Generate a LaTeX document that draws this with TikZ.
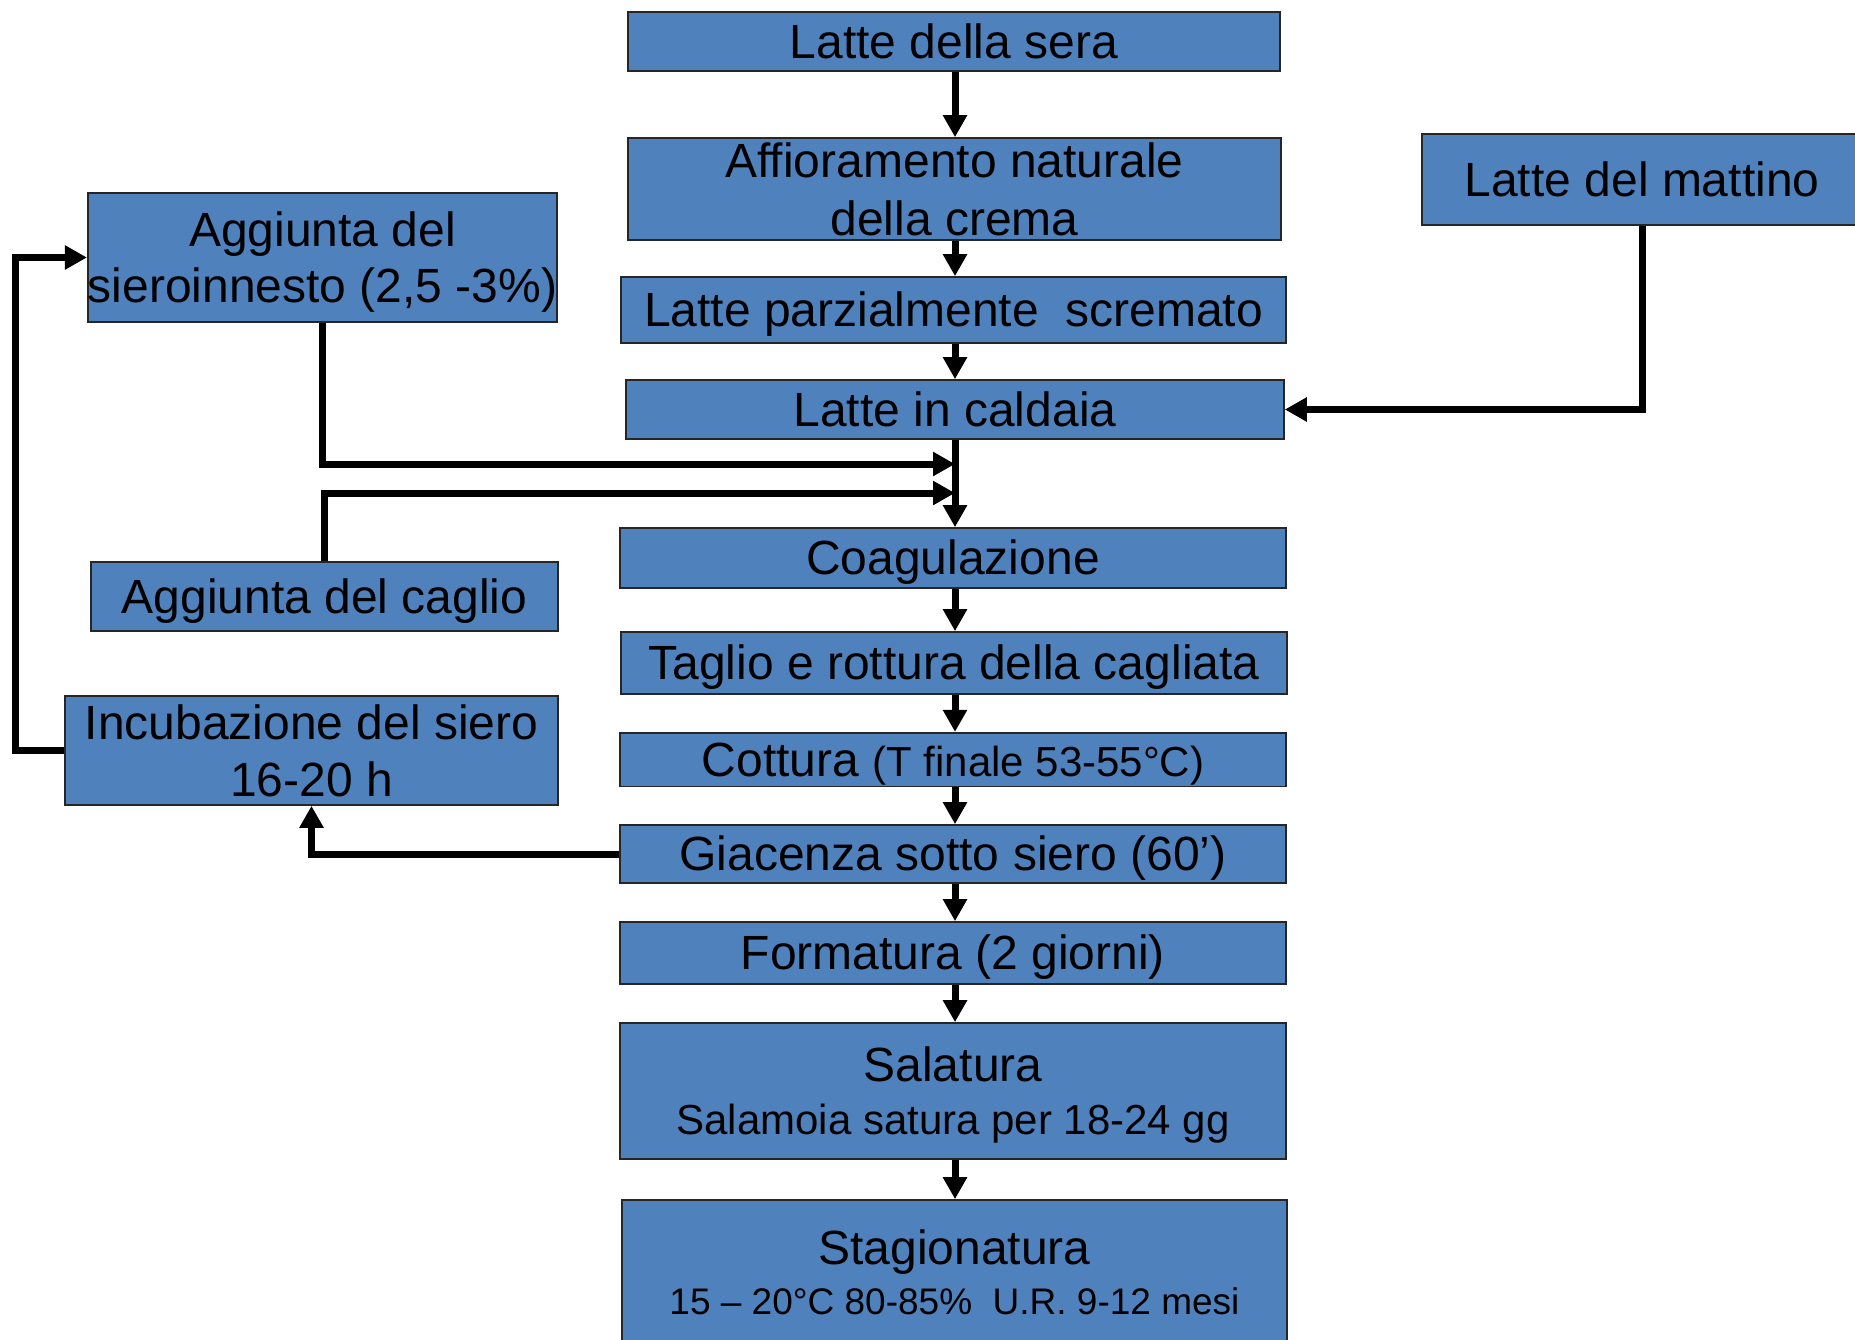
\documentclass[tikz,border=0pt]{standalone}
\usepackage{fontspec}
\setmainfont{Liberation Sans}
\usetikzlibrary{arrows.meta}
\definecolor{boxblue}{HTML}{4F81BD}
\newcommand\pstrut{\rule[-0.212em]{0pt}{1.117em}}
\begin{document}
\begin{tikzpicture}[x=0.5pt,y=-0.5pt,
  box/.style={draw=black!85, line width=0.8pt, fill=boxblue, inner sep=0pt, align=center, font=\fontsize{24}{28}\selectfont,
    execute at begin node=\pstrut, execute at end node=\pstrut},
  ml/.style={text depth=#1},
  ml/.default=-1.3pt,
  arr/.style={line width=3.5pt, -{Triangle[length=11pt,width=11.5pt]}}]
\useasboundingbox (0,0) rectangle (1855,1339);
\clip (0,0) rectangle (1855,1339);

\node[box, ml, minimum width=326.5pt, minimum height=51pt, font=\fontsize{24}{29}\selectfont] (affi) at (954.5,189) {Affioramento naturale\\della crema};
\node[box, minimum width=326pt, minimum height=29.5pt] (sera) at (954,41.5) {Latte della sera};
\node[box, minimum width=332.5pt, minimum height=33pt] (parz) at (953.5,310) {Latte parzialmente~ scremato};
\node[box, minimum width=329pt, minimum height=29.5pt] (cald) at (955,409.5) {Latte in caldaia};
\node[box, minimum width=333pt, minimum height=30pt] (coag) at (953,558) {Coagulazione};
\node[box, minimum width=333pt, minimum height=31pt] (tagl) at (954,663) {Taglio e rottura della cagliata};
\node[box, minimum width=333pt, minimum height=26.5pt] (cott) at (953,759.5) {Cottura {\fontsize{21}{25}\selectfont (T finale 53-55°C)}};
\node[box, minimum width=333pt, minimum height=29pt] (giac) at (953,854) {Giacenza sotto siero (60’)};
\node[box, minimum width=333pt, minimum height=31pt] (form) at (953,953) {Formatura (2 giorni)};
\node[box, ml=-2pt, minimum width=333pt, minimum height=68pt, font=\fontsize{24}{26.5}\selectfont] (sala) at (953,1091) {Salatura\\{\fontsize{21}{25}\selectfont Salamoia satura per 18-24 gg}};
\node[box, ml, minimum width=332.5pt, minimum height=72.5pt, font=\fontsize{24}{25}\selectfont] (stag) at (954.5,1272.5) {Stagionatura\\{\fontsize{18.5}{22}\selectfont 15 – 20°C 80-85\%~ U.R. 9-12 mesi}};
\node[box, minimum width=220pt, minimum height=45.5pt] (matt) at (1642,179.5) {Latte del mattino};
\node[box, ml, minimum width=231.5pt, minimum height=64.5pt] (siero) at (322.5,257.5) {Aggiunta del\\sieroinnesto (2,5 -3\%)};
\node[box, minimum width=233.5pt, minimum height=34.5pt] (cagl) at (324.5,596.5) {Aggiunta del caglio};
\node[box, ml, minimum width=246.5pt, minimum height=54.5pt, font=\fontsize{24}{28.5}\selectfont] (incu) at (311.5,750.5) {Incubazione del siero\\16-20 h};

\coordinate (cx) at (955,0);
\coordinate (j1) at (955,464);
\coordinate (j2) at (955,493);
\coordinate (lf) at (15,0);

\foreach \a/\b in {sera/affi, affi/parz, parz/cald, cald/coag, coag/tagl, tagl/cott, cott/giac, giac/form, form/sala, sala/stag}
  \draw[arr] (\a.south -| cx) -- (\b.north -| cx);

\draw[arr] (siero.south) |- (j1);
\draw[arr] (cagl.north) |- (j2);
\draw[arr] (matt.south) |- (cald.east);
\draw[arr] (incu.west) -- (incu.west -| lf) -- (siero.west -| lf) -- (siero.west);
\draw[arr] (giac.west) -| (incu.south);
\end{tikzpicture}
\end{document}
